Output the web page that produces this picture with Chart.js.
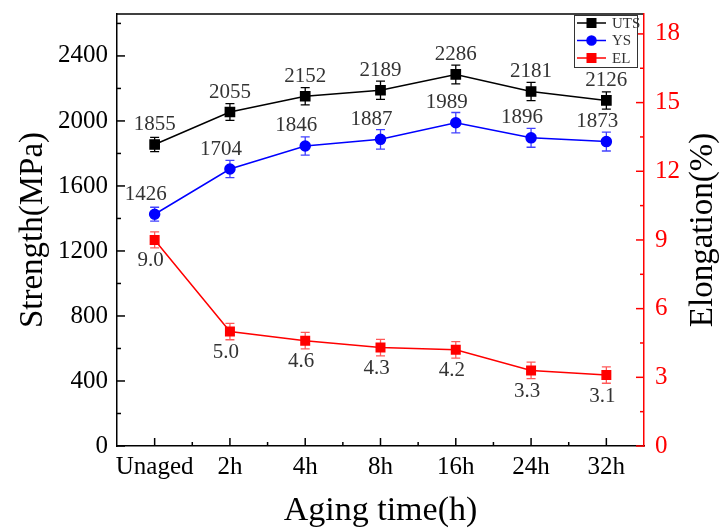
<!DOCTYPE html>
<html>
<head>
<meta charset="utf-8">
<script src="https://cdn.jsdelivr.net/npm/chart.js@4.4.0/dist/chart.umd.min.js"></script>
<style>
  html, body { margin: 0; padding: 0; background: #fff; }
  #wrap { width: 723px; height: 528px; }
</style>
</head>
<body>
<div id="wrap"><canvas id="chart"></canvas></div>
<script>
// values
const agingTimes = ['Unaged', '2h', '4h', '8h', '16h', '24h', '32h'];
const utsValues = [1855, 2055, 2152, 2189, 2286, 2181, 2126];
const utsErrors = [44, 51, 53, 56, 58, 56, 53];
const ysValues = [1426, 1704, 1846, 1887, 1989, 1896, 1873];
const ysErrors = [43, 53, 56, 60, 63, 58, 58];
const elValues = [9.0, 5.0, 4.6, 4.3, 4.2, 3.3, 3.1];
const elErrors = [0.35, 0.36, 0.36, 0.36, 0.36, 0.36, 0.36];
const strengthTicks = [0, 400, 800, 1200, 1600, 2000, 2400];
const elongationTicks = [0, 3, 6, 9, 12, 15, 18];

const SERIF = '"Liberation Serif", "Times New Roman", serif';
const rightTitle = 'Elongation(%)';

// inward tick marks + top frame line
const framePlugin = {
    id: 'frame',
    afterDraw(chart) {
        const ctx = chart.ctx;
        const a = chart.chartArea;
        const x = chart.scales.x, y = chart.scales.y, y1 = chart.scales.y1;
        ctx.save();
        ctx.lineWidth = 1.5;
        ctx.strokeStyle = '#000';
        ctx.beginPath();
        ctx.moveTo(a.left, a.top);
        ctx.lineTo(a.right - 1, a.top);
        ctx.stroke();

        // left axis
        strengthTicks.forEach((v, i) => {
            let py = y.getPixelForValue(v);
            ctx.beginPath(); ctx.moveTo(a.left, py); ctx.lineTo(a.left + 8, py); ctx.stroke();
        });
        const stepL = strengthTicks[1] - strengthTicks[0];
        for (let v = stepL / 2; v < y.max; v += stepL) {
            let py = y.getPixelForValue(v);
            ctx.beginPath(); ctx.moveTo(a.left, py); ctx.lineTo(a.left + 4, py); ctx.stroke();
        }
        // bottom axis
        agingTimes.forEach((c, i) => {
            let px = x.getPixelForValue(i);
            ctx.beginPath(); ctx.moveTo(px, a.bottom); ctx.lineTo(px, a.bottom - 8); ctx.stroke();
            if (i < agingTimes.length - 1) {
                let pm = (px + x.getPixelForValue(i + 1)) / 2;
                ctx.beginPath(); ctx.moveTo(pm, a.bottom); ctx.lineTo(pm, a.bottom - 4); ctx.stroke();
            }
        });
        // right axis
        ctx.strokeStyle = '#ff0000';
        elongationTicks.forEach(v => {
            let py = y1.getPixelForValue(v);
            ctx.beginPath(); ctx.moveTo(a.right, py); ctx.lineTo(a.right - 8, py); ctx.stroke();
        });
        const stepR = elongationTicks[1] - elongationTicks[0];
        for (let v = stepR / 2; v < y1.max; v += stepR) {
            let py = y1.getPixelForValue(v);
            ctx.beginPath(); ctx.moveTo(a.right, py); ctx.lineTo(a.right - 4, py); ctx.stroke();
        }

        // right title, reads bottom to top
        ctx.translate(703, (a.top + a.bottom) / 2);
        ctx.rotate(-Math.PI / 2);
        ctx.font = '33px ' + SERIF;
        ctx.fillStyle = '#000';
        ctx.textAlign = 'center';
        ctx.textBaseline = 'middle';
        ctx.fillText(rightTitle, 0, 0);
        ctx.restore();
    }
};

const errorBarPlugin = {
    id: 'errorBars',
    beforeDatasetsDraw(chart) {
        const ctx = chart.ctx;
        chart.data.datasets.forEach((ds, di) => {
            const meta = chart.getDatasetMeta(di);
            const scale = chart.scales[ds.yAxisID];
            ctx.save();
            ctx.strokeStyle = ds.errorColor;
            ctx.lineWidth = 1.3;
            meta.data.forEach((pt, i) => {
                const top = scale.getPixelForValue(ds.data[i] + ds.errors[i]);
                const bot = scale.getPixelForValue(ds.data[i] - ds.errors[i]);
                ctx.beginPath();
                ctx.moveTo(pt.x, top); ctx.lineTo(pt.x, bot);
                ctx.moveTo(pt.x - 4.5, top); ctx.lineTo(pt.x + 4.5, top);
                ctx.moveTo(pt.x - 4.5, bot); ctx.lineTo(pt.x + 4.5, bot);
                ctx.stroke();
            });
            ctx.restore();
        });
    }
};

const valueLabelPlugin = {
    id: 'valueLabels',
    afterDatasetsDraw(chart) {
        const ctx = chart.ctx;
        ctx.save();
        ctx.font = '21px ' + SERIF;
        ctx.fillStyle = '#333';
        ctx.textAlign = 'center';
        ctx.textBaseline = 'middle';
        chart.data.datasets.forEach((ds, di) => {
            const meta = chart.getDatasetMeta(di);
            meta.data.forEach((pt, i) => {
                ctx.fillText(ds.data[i].toFixed(ds.decimals), pt.x + ds.labelDx, pt.y + ds.labelDy);
            });
        });
        ctx.restore();
    }
};

const boxLegendPlugin = {
    id: 'boxLegend',
    afterDraw(chart) {
        const ctx = chart.ctx;
        const a = chart.chartArea;
        const left = a.right - 70, top = a.top + 1, w = 63, h = 52;
        ctx.save();
        ctx.fillStyle = '#fff';
        ctx.fillRect(left, top, w, h);
        ctx.strokeStyle = '#333';
        ctx.lineWidth = 1;
        ctx.strokeRect(left + 0.5, top + 0.5, w, h);
        ctx.font = '15px ' + SERIF;
        ctx.textBaseline = 'middle';
        chart.data.datasets.forEach((ds, i) => {
            const ry = top + 8 + i * 17.5;
            ctx.strokeStyle = ds.borderColor;
            ctx.lineWidth = 1.5;
            ctx.beginPath(); ctx.moveTo(left + 3, ry); ctx.lineTo(left + 32, ry); ctx.stroke();
            ctx.fillStyle = ds.borderColor;
            Chart.helpers.drawPoint(ctx, { pointStyle: ds.pointStyle, radius: ds.pointStyle === 'circle' ? 4.5 : 6, borderWidth: 1 }, left + 17.5, ry);
            ctx.fillStyle = '#333';
            ctx.fillText(ds.label, left + 38, ry + 1);
        });
        ctx.restore();
    }
};

const tickFont = { family: SERIF, size: 25, lineHeight: 1 };
const titleFont = { family: SERIF, size: 33, lineHeight: 1.2 };

function fixVertical(width) {
    return s => { s.width = width; s.paddingTop = 0; s.paddingBottom = 0; };
}

const ctx = document.getElementById('chart').getContext('2d');
new Chart(ctx, {
    type: 'line',
    data: {
        labels: agingTimes,
        datasets: [{
            label: 'UTS',
            data: utsValues,
            errors: utsErrors,
            errorColor: '#000',
            yAxisID: 'y',
            borderColor: '#000',
            backgroundColor: '#000',
            borderWidth: 1.5,
            pointStyle: 'rect',
            pointRadius: 6.5,
            decimals: 0, labelDx: 0, labelDy: -20
        }, {
            label: 'YS',
            data: ysValues,
            errors: ysErrors,
            errorColor: 'rgba(0,0,255,0.75)',
            yAxisID: 'y',
            borderColor: '#0000ff',
            backgroundColor: '#0000ff',
            borderWidth: 1.5,
            pointStyle: 'circle',
            pointRadius: 5,
            decimals: 0, labelDx: -9, labelDy: -20
        }, {
            label: 'EL',
            data: elValues,
            errors: elErrors,
            errorColor: 'rgba(255,0,0,0.65)',
            yAxisID: 'y1',
            borderColor: '#ff0000',
            backgroundColor: '#ff0000',
            borderWidth: 1.5,
            pointStyle: 'rect',
            pointRadius: 6,
            decimals: 1, labelDx: -4, labelDy: 21
        }]
    },
    options: {
        responsive: true,
        maintainAspectRatio: false,
        animation: false,
        layout: { padding: { top: 14, left: 0, right: 0, bottom: 0 } },
        plugins: {
            legend: { display: false },
            tooltip: { enabled: false }
        },
        scales: {
            x: {
                type: 'category',
                offset: true,
                grid: { display: false, drawTicks: false },
                border: { color: '#000', width: 1.5 },
                ticks: { font: tickFont, color: '#000', padding: 9, maxRotation: 0, autoSkip: false },
                title: { display: true, text: 'Aging time(h)', font: { family: SERIF, size: 34, lineHeight: 1 }, color: '#000', padding: { top: 0, bottom: 0 } },
                afterFit: s => { s.height = 82; s.paddingLeft = 0; s.paddingRight = 0; }
            },
            y: {
                position: 'left',
                min: 0,
                max: 2658,
                afterBuildTicks: s => { s.ticks = strengthTicks.map(v => ({ value: v })); },
                grid: { display: false, drawTicks: false },
                border: { color: '#000', width: 1.5 },
                ticks: { font: tickFont, color: '#000', padding: 9, callback: v => String(v) },
                title: { display: true, text: 'Strength(MPa)', font: titleFont, color: '#000', padding: { top: 14, bottom: 0 } },
                afterFit: fixVertical(117)
            },
            y1: {
                position: 'right',
                min: 0,
                max: 18.87,
                afterBuildTicks: s => { s.ticks = elongationTicks.map(v => ({ value: v })); },
                grid: { display: false, drawTicks: false },
                border: { color: '#ff0000', width: 1.5 },
                ticks: { font: tickFont, color: '#ff0000', padding: 11, callback: v => String(v) },
                afterFit: fixVertical(79)
            }
        }
    },
    plugins: [errorBarPlugin, valueLabelPlugin, framePlugin, boxLegendPlugin]
});
</script>
</body>
</html>
